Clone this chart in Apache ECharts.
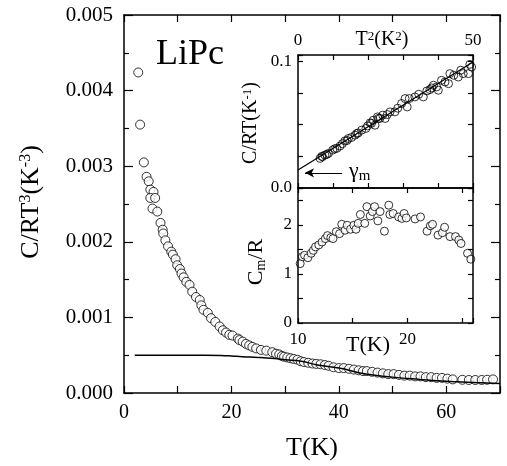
<!DOCTYPE html>
<html>
<head>
<meta charset="utf-8">
</head>
<body style="margin: 0">
<div id="container" style="width: 507px; height: 466px"></div>
<script src="https://cdn.jsdelivr.net/npm/echarts@6/dist/echarts.min.js"></script>
<script>
    // main panel: C/RT^3 vs T
    var mainT = [2.65, 3.0, 3.7, 4.2, 4.6, 4.9, 5.5, 4.9, 5.8, 5.3, 6.2, 6.8, 7.2, 7.3, 7.7, 8.2, 8.8, 9.1, 9.6, 9.9,
        10.4, 10.7, 11.1, 11.6, 12.2, 12.7, 13.4, 14.1, 14.4, 14.8, 15.6, 16.2, 17.0, 17.8, 18.4, 19.0, 19.6, 20.2, 21.2, 21.5,
        22.1, 22.7, 23.3, 23.9, 24.6, 25.5, 26.5, 27.6, 28.3, 28.9, 29.4, 29.8, 30.4, 31.0, 31.6, 32.3, 32.9, 33.5, 34.3, 35.1,
        35.8, 36.6, 37.4, 38.1, 39.0, 40.0, 40.9, 41.9, 42.8, 43.7, 44.5, 45.2, 46.2, 47.2, 48.2, 49.2, 50.2, 51.2, 52.2, 53.2,
        54.2, 55.2, 56.2, 57.2, 58.2, 59.2, 60.2, 61.2, 63.0, 64.2, 65.4, 66.6, 67.6, 68.7];
    var mainC = [0.00424, 0.00355, 0.00305, 0.00286, 0.0028, 0.00269, 0.00266, 0.00258, 0.00258, 0.00244, 0.0024, 0.00225, 0.00216, 0.00211, 0.00202, 0.00194, 0.00187, 0.00183, 0.00177, 0.00169,
        0.00164, 0.00158, 0.00153, 0.00147, 0.00143, 0.00134, 0.00127, 0.00123, 0.00116, 0.0011, 0.00106, 0.00099, 0.00094, 0.00088, 0.00083, 0.0008, 0.00077, 0.00076, 0.00072, 0.0007,
        0.00068, 0.00065, 0.00063, 0.00061, 0.00059, 0.00057, 0.00056, 0.00054, 0.00052, 0.00051, 0.00049, 0.00048, 0.00047, 0.00046, 0.00045, 0.00044, 0.00042, 0.00041, 0.0004, 0.00039,
        0.000385, 0.00038, 0.00037, 0.00036, 0.00034, 0.00033, 0.00033, 0.00032, 0.00031, 0.0003, 0.00029, 0.00029, 0.00028, 0.00027, 0.00026, 0.00025, 0.00025, 0.00024, 0.00023, 0.00023,
        0.00022, 0.00022, 0.00021, 0.00021, 0.0002, 0.0002, 0.00019, 0.00018, 0.000175, 0.000172, 0.000172, 0.000172, 0.000175, 0.00018];
    var fitT = [2, 5, 10, 15, 18, 20, 22, 25, 28, 30, 33, 36, 40, 45, 50, 55, 60, 65, 70];
    var fitC = [0.0005, 0.0005, 0.0005, 0.0005, 0.000497, 0.00049, 0.00048, 0.00047, 0.000455, 0.00044, 0.00042, 0.00037, 0.00033, 0.00025, 0.00021, 0.00018, 0.000155, 0.00014, 0.000125];

    // upper inset: C/RT vs T^2
    var t2 = [6.3, 6.8, 7.0, 7.7, 8.2, 8.7, 9.9, 10.5, 11.1, 12.0, 12.7, 13.4, 14.0, 14.4, 15.3, 16.3, 16.8, 17.2, 18.2, 19.4,
        19.9, 20.6, 21.0, 21.5, 22.0, 22.7, 23.0, 23.4, 24.2, 24.9, 25.5, 26.3, 27.7, 28.5, 29.6, 30.6, 31.2, 31.8, 33.4, 34.5,
        35.8, 36.8, 37.7, 38.2, 38.7, 39.6, 40.1, 41.0, 42.0, 43.0, 43.4, 44.5, 45.8, 46.5, 47.2, 48.7, 49.1, 49.6];
    var crt = [0.0234, 0.025, 0.0247, 0.026, 0.0265, 0.0273, 0.0299, 0.031, 0.0313, 0.0331, 0.035, 0.0372, 0.0375, 0.0391, 0.0399, 0.0417, 0.043, 0.0435, 0.0457, 0.047,
        0.049, 0.0514, 0.051, 0.0535, 0.0496, 0.0561, 0.055, 0.0549, 0.0575, 0.0549, 0.058, 0.0601, 0.0601, 0.063, 0.0667, 0.0706, 0.064, 0.0706, 0.0719, 0.074,
        0.0719, 0.0766, 0.0777, 0.079, 0.0811, 0.0798, 0.0772, 0.085, 0.0837, 0.0824, 0.0903, 0.089, 0.0876, 0.093, 0.0903, 0.0903, 0.0976, 0.0955];
    var lineT2 = [0, 50];
    var lineCRT = [0.0142, 0.0995];
    var gammaArrow = [[12.6, 0.012], [2, 0.012]];

    // lower inset: Cm/R vs T
    var magT = [10.2, 10.4, 10.6, 10.9, 11.2, 11.4, 11.6, 11.9, 12.2, 12.5, 12.7, 13.0, 13.2, 13.5, 13.8, 14.0, 14.3, 14.5, 14.8, 15.1,
        15.3, 15.5, 15.7, 16.1, 16.3, 16.6, 16.8, 17.0, 17.3, 17.5, 17.9, 18.3, 18.4, 18.7, 19.2, 19.5, 19.7, 19.9, 20.7, 21.2,
        21.8, 22.1, 22.3, 22.8, 23.2, 23.4, 23.9, 24.4, 24.7, 24.9, 25.5, 25.8];
    var magC = [1.21, 1.35, 1.38, 1.33, 1.42, 1.48, 1.55, 1.59, 1.65, 1.72, 1.78, 1.74, 1.72, 1.86, 1.82, 2.01, 1.89, 1.99, 1.91, 1.99,
        1.91, 2.03, 2.21, 2.03, 2.37, 2.18, 2.27, 2.37, 2.08, 2.27, 1.87, 2.40, 2.21, 2.23, 2.16, 2.13, 2.23, 2.14, 2.12, 2.16,
        1.87, 1.98, 2.01, 1.79, 1.84, 1.95, 1.76, 1.76, 1.69, 1.62, 1.42, 1.30];

    function zip(a, b) {
        var out = [];
        for (var i = 0; i < a.length; i++) out.push([a[i], b[i]]);
        return out;
    }

    var serif = 'Liberation Serif';
    var black = '#000';
    var supSmall = {fontFamily: serif, fontSize: 13, verticalAlign: 'top', lineHeight: 14};
    // solid dash pattern, keeps every tick drawn on its own
    var tickStyle = {color: black, width: 1.2, type: [40, 0]};

    function frameAxis(extra) {
        var a = {
            type: 'value',
            z: 5,
            axisLine: {show: true, onZero: false, lineStyle: {color: black, width: 1.5}},
            axisTick: {show: true, inside: true, length: 5, lineStyle: tickStyle},
            axisLabel: {show: false, color: black, fontFamily: serif},
            splitLine: {show: false},
            nameTextStyle: {color: black, fontFamily: serif}
        };
        for (var k in extra) {
            if (typeof extra[k] === 'object' && a[k] && !Array.isArray(extra[k])) {
                for (var j in extra[k]) a[k][j] = extra[k][j];
            } else {
                a[k] = extra[k];
            }
        }
        return a;
    }

    // rotated / superscripted titles drawn as graphic text
    function title(x, y, text, size, rich, rotated) {
        return {
            type: 'text', x: x, y: y, rotation: rotated ? Math.PI / 2 : 0,
            style: {text: text, fontFamily: serif, fontSize: size, fill: black,
                align: 'center', verticalAlign: 'middle', rich: rich}
        };
    }

    var dom = document.getElementById('container');
    var myChart = echarts.init(dom);

    var option = {
        backgroundColor: '#fff',
        animation: false,
        grid: [
            {left: 124, top: 15, width: 376, height: 378, outerBoundsMode: 'none'},
            {left: 298, top: 55, width: 175, height: 133, outerBoundsMode: 'none', show: true, backgroundColor: '#fff', borderWidth: 0},
            {left: 298, top: 188, width: 175, height: 135, outerBoundsMode: 'none', show: true, backgroundColor: '#fff', borderWidth: 0}
        ],
        xAxis: [
            frameAxis({gridIndex: 0, position: 'bottom', min: 0, max: 70, interval: 10,
                axisTick: {length: 7},
                axisLabel: {show: true, fontSize: 20, margin: 10, formatter: function (v) { return v % 20 === 0 ? v : ''; }},
                name: 'T(K)', nameLocation: 'middle', nameGap: 42, nameTextStyle: {fontSize: 26}}),
            frameAxis({gridIndex: 0, position: 'top', min: 0, max: 70, interval: 10, axisTick: {length: 7}}),
            // upper inset
            frameAxis({gridIndex: 1, position: 'top', min: 0, max: 50, interval: 10,
                axisLabel: {show: true, fontSize: 17, margin: 6, formatter: function (v) { return (v === 0 || v === 50) ? v : ''; }}}),
            frameAxis({gridIndex: 1, position: 'bottom', min: 0, max: 50, interval: 10}),
            // lower inset
            frameAxis({gridIndex: 2, position: 'bottom', min: 10, max: 26, interval: 5,
                axisLabel: {show: true, fontSize: 17, margin: 8, formatter: function (v) { return (v === 10 || v === 20) ? v : ''; }}}),
            frameAxis({gridIndex: 2, position: 'top', min: 10, max: 26, interval: 5})
        ],
        yAxis: [
            frameAxis({gridIndex: 0, position: 'left', min: 0, max: 0.005, interval: 0.001,
                axisTick: {length: 9},
                minorTick: {show: true, splitNumber: 2, length: 5, lineStyle: tickStyle},
                axisLabel: {show: true, fontSize: 21, margin: 11, formatter: function (v) { return v.toFixed(3); }}}),
            frameAxis({gridIndex: 0, position: 'right', min: 0, max: 0.005, interval: 0.001,
                axisTick: {length: 9},
                minorTick: {show: true, splitNumber: 2, length: 5, lineStyle: tickStyle}}),
            // upper inset
            frameAxis({gridIndex: 1, position: 'left', min: 0, max: 0.105, interval: 0.025,
                axisLabel: {show: true, fontSize: 17, margin: 6, formatter: function (v) {
                    if (Math.abs(v) < 1e-9) return '0.0';
                    if (Math.abs(v - 0.1) < 1e-9) return '0.1';
                    return '';
                }}}),
            frameAxis({gridIndex: 1, position: 'right', min: 0, max: 0.105, interval: 0.025}),
            // lower inset
            frameAxis({gridIndex: 2, position: 'left', min: 0, max: 2.75, interval: 0.5,
                axisLabel: {show: true, fontSize: 17, margin: 6, formatter: function (v) { return v % 1 === 0 ? v : ''; }}}),
            frameAxis({gridIndex: 2, position: 'right', min: 0, max: 2.75, interval: 0.5})
        ],
        series: [
            {
                type: 'line', xAxisIndex: 0, yAxisIndex: 0,
                data: zip(fitT, fitC), smooth: true, showSymbol: false,
                lineStyle: {color: black, width: 1.5}
            },
            {
                type: 'scatter', xAxisIndex: 0, yAxisIndex: 0,
                data: zip(mainT, mainC), symbol: 'circle', symbolSize: 9,
                itemStyle: {color: '#fff', borderColor: black, borderWidth: 1}
            },
            {
                type: 'line', xAxisIndex: 2, yAxisIndex: 2,
                data: zip(lineT2, lineCRT), showSymbol: false,
                lineStyle: {color: black, width: 1.2},
                markLine: {
                    silent: true, symbol: ['none', 'arrow'], symbolSize: [7, 9],
                    label: {show: false},
                    lineStyle: {color: black, width: 1.2, type: 'solid'},
                    data: [[{coord: gammaArrow[0]}, {coord: gammaArrow[1]}]]
                }
            },
            {
                type: 'scatter', xAxisIndex: 2, yAxisIndex: 2,
                data: zip(t2, crt), symbol: 'circle', symbolSize: 8,
                itemStyle: {color: 'rgba(255,255,255,0)', borderColor: black, borderWidth: 1}
            },
            {
                type: 'scatter', xAxisIndex: 4, yAxisIndex: 4,
                data: zip(magT, magC), symbol: 'circle', symbolSize: 8,
                itemStyle: {color: '#fff', borderColor: black, borderWidth: 1}
            }
        ],
        graphic: [
            {type: 'text', left: 156, top: 37,
                style: {text: 'LiPc', font: '36px "Liberation Serif"', fill: black}},
            title(31, 202, 'C/RT{s|3}(K{s|-3})', 26,
                {s: {fontFamily: serif, fontSize: 16, verticalAlign: 'top', lineHeight: 16}}, true),
            title(382, 40, 'T{s|2}(K{s|2})', 20, {s: supSmall}, false),
            title(251, 123, 'C/RT(K{s|-1})', 20, {s: supSmall}, true),
            title(256, 262, 'C{b|m}/R', 22,
                {b: {fontFamily: serif, fontSize: 14, verticalAlign: 'bottom', lineHeight: 24}}, true),
            {type: 'text', left: 349, top: 160,
                style: {text: '\u03b3{m|m}', fontFamily: serif, fontSize: 22, fill: black,
                    rich: {m: {fontFamily: serif, fontSize: 15, verticalAlign: 'bottom', lineHeight: 26}}}},
            {type: 'text', left: 346, top: 334,
                style: {text: 'T(K)', font: '22px "Liberation Serif"', fill: black}}
        ]
    };

    myChart.setOption(option);
</script>
</body>
</html>
